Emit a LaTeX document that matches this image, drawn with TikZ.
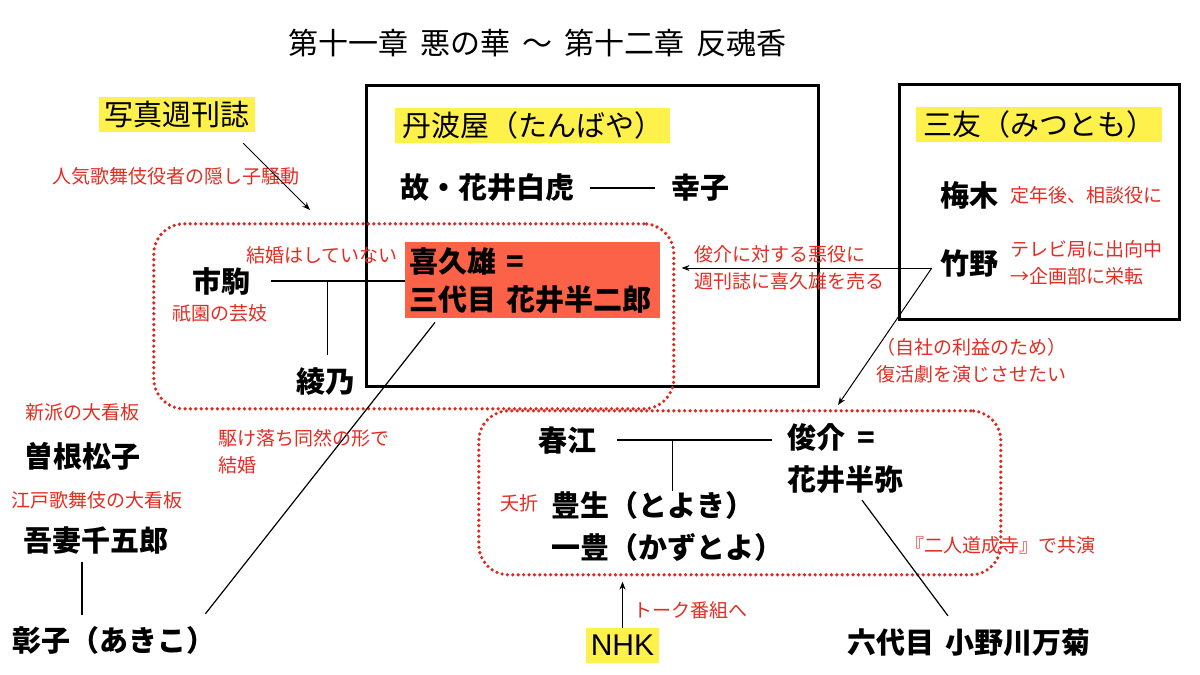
\documentclass[tikz,border=0pt]{standalone}
\usepackage{fontspec}
\setmainfont{Noto Sans CJK JP}
\newfontfamily\latinsans{Liberation Sans}
\usetikzlibrary{arrows.meta,calc}
\definecolor{annred}{RGB}{226,45,35}
\definecolor{dotred}{RGB}{220,40,30}
\definecolor{hlyellow}{RGB}{255,241,76}
\definecolor{kikured}{RGB}{252,98,72}
\tikzset{
 nm/.style={inner sep=0pt, font=\fontsize{29}{42}\selectfont\bfseries},
 note/.style={inner sep=0pt, text=annred, font=\fontsize{19}{27}\selectfont},
 hl/.style={fill=hlyellow, inner sep=0pt, font=\fontsize{29}{35}\selectfont, minimum height=35pt},
 frame/.style={draw=black, line width=3pt, inner sep=0pt, anchor=north west},
 grp/.style={draw=dotred, line width=3.6pt, line cap=round, dash pattern=on 0pt off 5.4pt, rounded corners=30pt, inner sep=0pt, anchor=north west},
 link/.style={draw=black, line width=1.2pt},
 arr/.style={draw=black, line width=1pt, -{Stealth[length=8pt,width=6pt]}},
}
\begin{document}
\begin{tikzpicture}[x=1pt,y=-1pt]
\fill[white] (0,0) rectangle (1200,675);
\useasboundingbox (0,0) rectangle (1200,675);

% title
\node[inner sep=0pt, font=\fontsize{30}{36}\selectfont] (title) at (537,43)
 {第十一章\hspace{12pt}悪の華\hspace{12pt}〜\hspace{12pt}第十二章\hspace{12pt}反魂香};

% frames and groups
\node[frame, minimum width=452pt, minimum height=301pt] (tanbaya) at (365,84) {};
\node[frame, minimum width=280pt, minimum height=235pt] (mitomo) at (898,83) {};
\node[grp, minimum width=520pt, minimum height=185pt] (group1) at (152,222) {};
\node[grp, minimum width=522pt, minimum height=164pt] (group2) at (477,409) {};

% yellow labels
\node[hl, minimum width=156pt] (shukan) at (177,114.5) {写真週刊誌};
\node[hl, minimum width=275pt] (tanbayalbl) at (532.5,125) {丹波屋（たんばや）};
\node[hl, minimum width=246pt] (mitomolbl) at (1039,124) {三友（みつとも）};
\node[hl, font=\fontsize{30}{35}\selectfont\latinsans, minimum width=73pt] (nhk) at (622.5,645.5) {NHK};

% Tanbaya
\node[nm] (hakko) at (487,188) {故・花井白虎};
\node[nm] (sachiko) at (700,188) {幸子};
\draw[link] ([xshift=16pt]hakko.east) -- ([xshift=-16pt]sachiko.west);

\node[fill=kikured, inner xsep=4pt, inner ysep=0pt, minimum width=255pt, minimum height=76pt,
 text width=247pt, align=left, anchor=north west, font=\fontsize{29}{38}\selectfont\bfseries]
 (kikuo) at (405,242) {喜久雄\hspace{10pt}=\\三代目\hspace{10pt}花井半二郎};

% left group
\node[nm] (ichikoma) at (221,281) {市駒};
\node[nm] (ayano) at (325,382) {綾乃};
\node[note] (nomarriage) at (322,255) {結婚はしていない};
\node[note] (gion) at (220,313) {祇園の芸妓};
\draw[link] ([xshift=21pt]ichikoma.east) -- (ichikoma.east -| kikuo.west);
\coordinate (ik) at ($(ichikoma.east)!0.5!(ichikoma.east -| kikuo.west)$);
\draw[link, shorten >=13pt] (ik) -- (ik |- ayano.north);

% magazine
\node[note] (scandal) at (176,176) {人気歌舞伎役者の隠し子騒動};
\draw[arr] ($(shukan.south east)+(-12,11)$) -- ($(group1.north west)+(158,-12)$);

% far left
\node[note] (shinpa) at (82,412) {新派の大看板};
\node[nm] (sone) at (82,456) {曽根松子};
\node[note] (edo) at (97,500) {江戸歌舞伎の大看板};
\node[nm] (azuma) at (96,540) {吾妻千五郎};
\node[nm, anchor=west] (akiko) at (12,640) {彰子（あきこ）};
\draw[link] ($(azuma.south)+(-14,8)$) -- ($(akiko.north west)+(70,-11)$);
\draw[link] ($(kikuo.south west)+(30,4)$) -- ($(akiko.north east)+(-10,-12)$);
\node[note, anchor=west, align=left] (kakeochi) at (218,451.5) {駆け落ち同然の形で\\結婚};

% Mitomo
\node[nm] (umeki) at (969,195) {梅木};
\node[note, anchor=west] (teinen) at (1010,195) {定年後、相談役に};
\node[nm] (takeno) at (969,263) {竹野};
\node[note, anchor=west, align=left] (tv) at (1010,263) {テレビ局に出向中\\→企画部に栄転};
\coordinate (tk) at ($(takeno.west)+(-8,5)$);
\draw[arr] (tk) -- ($(tk -| group1.east)+(6,0)$);
\draw[arr] (tk) -- ($(group2.north west)+(361,-4)$);
\node[note, anchor=west, align=left] (betray) at (694,267.5) {俊介に対する悪役に\\週刊誌に喜久雄を売る};
\node[note, align=center] (revival) at (971,360.5) {（自社の利益のため）\\復活劇を演じさせたい};

% lower group
\node[nm] (harue) at (567,440) {春江};
\node[nm, anchor=west, align=left] (shunsuke) at (787,459) {俊介\hspace{12pt}=\\花井半弥};
\draw[link] ([xshift=21pt]harue.east) -- ($(harue.east -| shunsuke.west)+(-15,0)$);
\coordinate (hs) at ($(harue.east)+(76,0)$);
\node[nm, anchor=west] (toyoki) at (551,505) {豊生（とよき）};
\node[nm, anchor=west] (kazutoyo) at (551,547) {一豊（かずとよ）};
\draw[link] (hs) -- (hs |- toyoki.north);
\node[note] (yosetsu) at (519,503) {夭折};

\node[nm] (manku) at (969,643) {六代目\hspace{11pt}小野川万菊};
\draw[link] ($(shunsuke.south west)+(75,6)$) -- ($(manku.north)+(-21,-13)$);
\node[note] (nikin) at (1000,545) {『二人道成寺』で共演};

\draw[arr] (nhk.north) -- ($(nhk.north |- group2.south)+(0,5)$);
\node[note, anchor=west] (talk) at (633,610) {トーク番組へ};
\end{tikzpicture}
\end{document}
